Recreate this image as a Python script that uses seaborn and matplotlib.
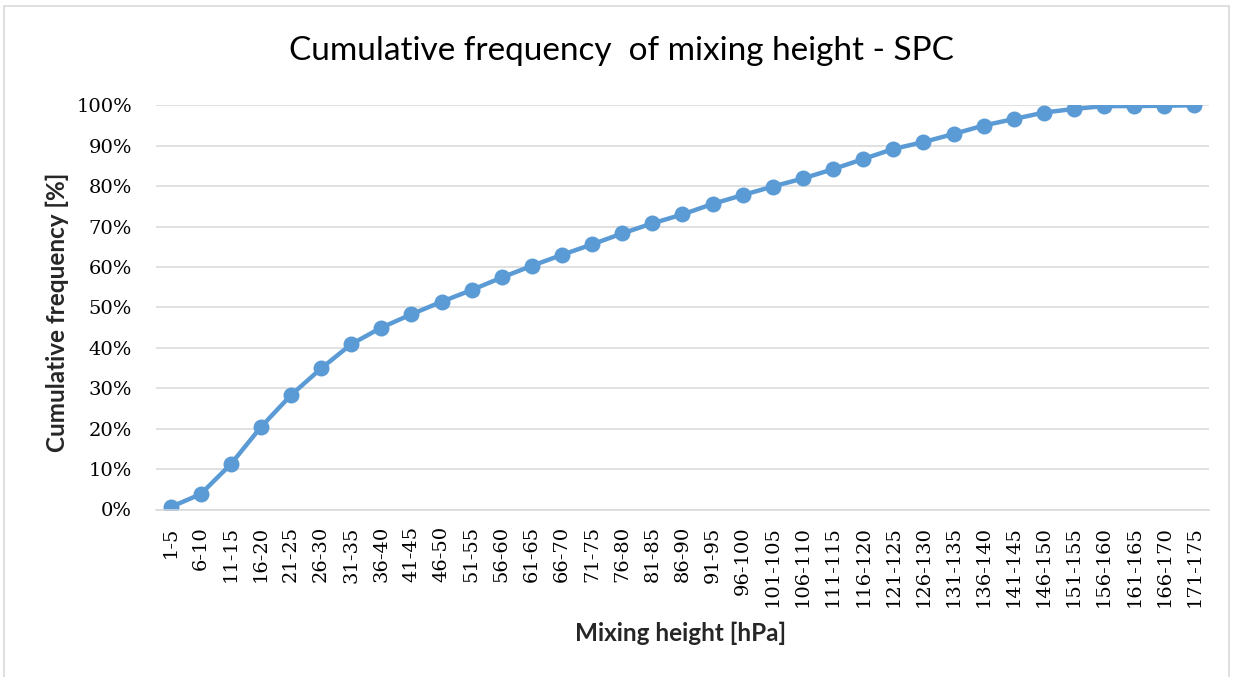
import numpy as np
import pandas as pd
import matplotlib
matplotlib.use("Agg")
import matplotlib.pyplot as plt
from matplotlib.patches import Rectangle
from matplotlib.ticker import PercentFormatter, MultipleLocator
import seaborn as sns

# Mixing-height classes [hPa]
classes = [
    "1-5", "6-10", "11-15", "16-20", "21-25", "26-30", "31-35", "36-40",
    "41-45", "46-50", "51-55", "56-60", "61-65", "66-70", "71-75", "76-80",
    "81-85", "86-90", "91-95", "96-100", "101-105", "106-110", "111-115",
    "116-120", "121-125", "126-130", "131-135", "136-140", "141-145",
    "146-150", "151-155", "156-160", "161-165", "166-170", "171-175",
]

# Cumulative frequency [%] for each class
cum_freq = [
    0.6, 3.8, 11.2, 20.4, 28.3, 34.9, 40.9, 45.0, 48.3, 51.4, 54.3, 57.4,
    60.3, 63.0, 65.6, 68.3, 70.8, 73.0, 75.6, 77.8, 79.9, 81.9, 84.2, 86.7,
    89.2, 90.9, 92.9, 95.0, 96.6, 98.2, 99.1, 99.8, 99.8, 99.9, 100.0,
]

df = pd.DataFrame({"pos": np.arange(len(classes)), "cls": classes, "freq": cum_freq})

sns.set_theme(style="white")
plt.rcParams["font.family"] = ["Lato", "DejaVu Sans"]

W, H = 1241, 677
fig = plt.figure(figsize=(W / 100, H / 100), dpi=100)
ax = fig.add_axes([155.5 / W, 1 - 509.5 / H, (1209.5 - 155.5) / W, (509.5 - 105.3) / H])

line_color = "#5B9BD5"
sns.lineplot(data=df, x="pos", y="freq", ax=ax, color=line_color, linewidth=3.2,
             marker="o", markersize=11.5, markeredgewidth=0, markeredgecolor=line_color)

tick_font = {"family": ["DejaVu Serif"], "size": 14}

ax.set_xlim(-0.5, len(classes) - 0.5)
ax.set_ylim(0, 100)
ax.yaxis.set_major_locator(MultipleLocator(10))
ax.yaxis.set_major_formatter(PercentFormatter(decimals=0))
ax.set_xticks(df["pos"])
ax.set_xticklabels(classes, rotation=90, fontdict=tick_font, color="#000000")
for lbl in ax.get_yticklabels():
    lbl.set_fontfamily(tick_font["family"])
    lbl.set_fontsize(tick_font["size"])
ax.tick_params(axis="y", colors="#000000", length=0, pad=17)
ax.tick_params(axis="x", length=0, pad=12)

ax.grid(axis="y", color="#D9D9D9", linewidth=1.1)
ax.grid(axis="x", visible=False)
ax.set_axisbelow(True)
for side in ["top", "right", "left"]:
    ax.spines[side].set_visible(False)
ax.spines["bottom"].set_color("#D9D9D9")
ax.spines["bottom"].set_linewidth(1.1)

ax.set_xlabel("Mixing height [hPa]", fontsize=17.5, fontweight="bold")
ax.set_ylabel("Cumulative frequency [%]", fontsize=17.5, fontweight="bold")
ax.xaxis.label.set_va("center")
ax.yaxis.label.set_va("center")
ax.xaxis.set_label_coords((681 - 155.5) / 1054, -(633 - 509.5) / 404.2)
ax.yaxis.set_label_coords(-(155.5 - 57) / 1054, (509.5 - 312) / 404.2)

fig.text(621 / W, 1 - 51 / H, "Cumulative frequency  of mixing height - SPC",
         ha="center", va="center", fontsize=24, fontweight="normal", color="#000000")

# Light frame around the chart area
fig.patches.append(Rectangle((3.5 / W, -0.01), (1229 - 3.5) / W, 1 - 5.5 / H + 0.01,
                             transform=fig.transFigure, fill=False,
                             edgecolor="#D9D9D9", linewidth=1.2))

fig.savefig("out.png", dpi=100, facecolor="white")
